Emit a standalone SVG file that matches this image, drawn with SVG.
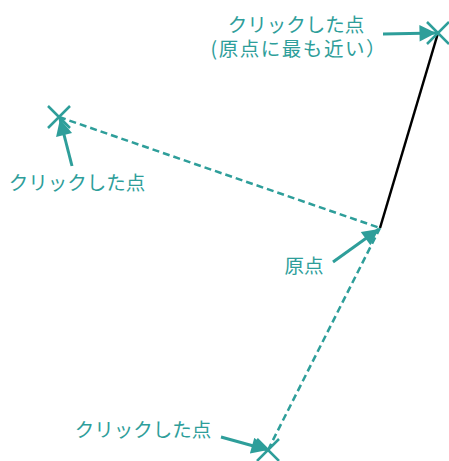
<svg xmlns="http://www.w3.org/2000/svg" width="449" height="461" viewBox="0 0 449 461">
<style>
.t{font-family:"Noto Sans CJK JP","Noto Sans",sans-serif;font-size:19.5px;fill:#2e9e9a;text-anchor:middle}
.x{stroke:#2e9e9a;stroke-width:2.5;fill:none}
.d{stroke:#2e9e9a;stroke-width:2.5;fill:none;stroke-dasharray:7 4}
.a{stroke:#2e9e9a;stroke-width:3;fill:none;marker-end:url(#ah)}
</style>
<defs>
<marker id="ah" viewBox="0 0 10 10" refX="10" refY="5" markerWidth="8.5" markerHeight="5.5" markerUnits="strokeWidth" orient="auto">
<path d="M0,0 L10,5 L0,10 Z" fill="#2e9e9a"/>
</marker>
</defs>
<g id="connectors">
<line x1="380" y1="228" x2="438" y2="33" stroke="#000" stroke-width="2.5"/>
<line class="d" x1="59" y1="117" x2="380" y2="228"/>
<line class="d" x1="268" y1="450" x2="380" y2="228"/>
<line class="a" x1="383" y1="34" x2="436" y2="33"/>
<line class="a" x1="72" y1="166" x2="60" y2="119"/>
<line class="a" x1="333" y1="262" x2="379" y2="229"/>
<line class="a" x1="221" y1="437" x2="268" y2="450"/>
</g>
<g id="p_top"><path class="x" d="M427,22 L449,44 M449,22 L427,44"/></g>
<g id="p_left"><path class="x" d="M48,106 L70,128 M70,106 L48,128"/></g>
<g id="p_bottom"><path class="x" d="M257,439 L279,461 M279,439 L257,461"/></g>
<g id="label_top">
<text class="t" x="296" y="32">クリックした点</text>
<text class="t" x="298" y="56" textLength="175" lengthAdjust="spacing">(原点に最も近い）</text>
</g>
<g id="label_left"><text class="t" x="77" y="190">クリックした点</text></g>
<g id="label_origin"><text class="t" x="304" y="273">原点</text></g>
<g id="label_bottom"><text class="t" x="143" y="437">クリックした点</text></g>
</svg>
